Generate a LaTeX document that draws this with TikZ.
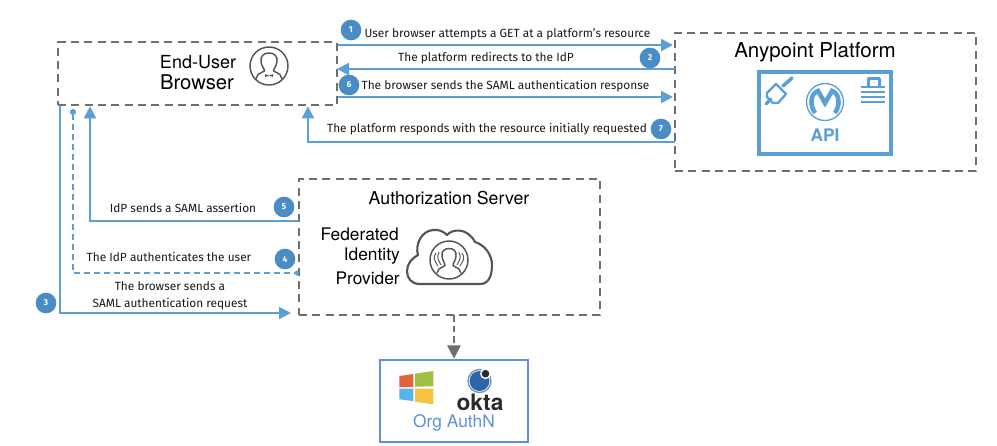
\documentclass[tikz,border=0pt]{standalone}
\usepackage{fontspec}
\setmainfont{TeX Gyre Heros}
\newfontfamily\labelfont{Fira Sans}
\usetikzlibrary{arrows.meta}
\definecolor{flowblue}{HTML}{5A9FD6}
\definecolor{badgeblue}{HTML}{4A8CC6}
\definecolor{boxgray}{HTML}{6F6F70}
\definecolor{icongray}{HTML}{555555}
\definecolor{orgblue}{HTML}{5F8FDE}
\definecolor{winred}{HTML}{E0643A}
\definecolor{wingreen}{HTML}{9FC044}
\definecolor{winblue}{HTML}{5AB4EC}
\definecolor{winyellow}{HTML}{F4C344}
\definecolor{oktablue}{HTML}{2F65A8}
\definecolor{oktadark}{HTML}{2B2B2B}
\tikzset{
  dashbox/.style={draw=boxgray,line width=1.5pt,dash pattern=on 6pt off 4pt,inner sep=0pt,outer sep=0pt},
  flow/.style={draw=flowblue,line width=1.5pt,-{Triangle[length=9pt,width=9pt]}},
  flowdash/.style={draw=flowblue,line width=1.5pt,dash pattern=on 4.5pt off 3pt,{Circle[length=4.5pt]}-{Circle[length=3.5pt]}},
  grayflow/.style={draw=boxgray,line width=1.5pt,dash pattern=on 5pt off 3pt,-{Triangle[length=10pt,width=10pt]}},
  badge/.style={circle,fill=badgeblue,minimum size=15.5pt,inner sep=0pt,text=white,font=\fontsize{6.5}{7}\labelfont\bfseries},
  lab/.style={inner sep=0pt,font=\fontsize{8.9}{10}\labelfont,text=black!90},
  title/.style={inner sep=0pt,align=center},
  icon/.style={draw=icongray,line width=1.1pt},
  apiicon/.style={draw=flowblue,line width=1.7pt,line join=round},
}
\begin{document}
\begin{tikzpicture}[x=0.75pt,y=-0.75pt]
\useasboundingbox (0,0) rectangle (997,446);
\fill[white] (0,0) rectangle (997,446);
% boxes
\node[dashbox,minimum width=209.25pt,minimum height=47.25pt] (eu) at (197.5,73.5) {};
\node[dashbox,minimum width=225.75pt,minimum height=103.5pt] (ap) at (825.5,102) {};
\node[dashbox,minimum width=225.75pt,minimum height=102pt] (au) at (449.5,247) {};
\node[draw=orgblue,line width=1.5pt,minimum width=111pt,minimum height=61.5pt,inner sep=0pt,outer sep=0pt] (org) at (454,401) {};
\node[draw=flowblue,line width=2.3pt,minimum width=99pt,minimum height=61.5pt,inner sep=0pt] (api) at (825,113) {};
% titles
\node[title,font=\fontsize{15.4}{15}\selectfont] (aptitle) at (815,52) {Anypoint Platform};
\node[title,font=\fontsize{13.5}{15}\selectfont] (eutitle1) at (198,62) {End-User};
\node[title,font=\fontsize{15.2}{15}\selectfont] (eutitle2) at (197,82.5) {Browser};
\node[title,font=\fontsize{13.3}{15}\selectfont] (autitle) at (449,198) {Authorization Server};
\node[title,anchor=east,font=\fontsize{13}{15}\selectfont] (fed1) at (399,234) {Federated};
\node[title,anchor=east,font=\fontsize{13}{15}\selectfont] (fed2) at (400,256) {Identity};
\node[title,anchor=east,font=\fontsize{13}{15}\selectfont] (fed3) at (400,278) {Provider};
\node[title,font=\fontsize{13}{15}\selectfont\bfseries,text=flowblue] (apilabel) at (825,135) {API};
\node[title,font=\fontsize{13}{15}\selectfont,text=orgblue] (orglabel) at (454,423) {Org AuthN};
\node[title,font=\fontsize{17}{17}\selectfont\bfseries,text=oktadark] (okta) at (480,402.5) {okta};
% heights and corners of the connectors
\coordinate (y1) at (0,45);
\coordinate (y2) at (0,69);
\coordinate (y6) at (0,97);
\coordinate (y7) at (0,142);
\coordinate (y5) at (0,221);
\coordinate (y4) at (0,273);
\coordinate (y3) at (0,313);
\coordinate (x3) at (60,0);
\coordinate (x4) at (73,0);
\coordinate (x5) at (90,0);
\coordinate (x7) at (308,0);
% connectors
\draw[flow,shorten <=1pt,shorten >=1.5pt] (eu.east |- y1) -- (ap.west |- y1);
\draw[flow,shorten >=0pt] (ap.west |- y2) -- (eu.east |- y2);
\draw[flow,shorten <=1pt,shorten >=1.5pt] (eu.east |- y6) -- (ap.west |- y6);
\draw[flow,shorten >=1pt] (ap.west |- y7) -- (x7 |- y7) -- (x7 |- eu.south);
\draw[flow,shorten >=1pt] (au.west |- y5) -- (x5 |- y5) -- (x5 |- eu.south);
\draw[flowdash,shorten <=3pt] (x4 |- eu.south) -- (x4 |- y4) -- (au.west |- y4);
\draw[flow,shorten >=6pt] (x3 |- eu.south) -- (x3 |- y3) -- (au.west |- y3);
\draw[grayflow,shorten >=1pt] (org.north |- au.south) -- (org.north);
% labels
\node[lab] (l1) at (507.5,34) {User browser attempts a GET at a platform’s resource};
\node[lab] (l2) at (486,58) {The platform redirects to the IdP};
\node[lab] (l6) at (505.5,86) {The browser sends the SAML authentication response};
\node[lab] (l7) at (487,129) {The platform responds with the resource initially requested};
\node[lab] (l5) at (183,208) {IdP sends a SAML assertion};
\node[lab] (l4) at (169,257) {The IdP authenticates the user};
\node[lab] (l3a) at (170,286) {The browser sends a};
\node[lab] (l3b) at (170,304) {SAML authentication request};
% badges
\node[badge] (b1) at (351,30) {1};
\node[badge] (b2) at (650,58) {2};
\node[badge] (b6) at (349,85) {6};
\node[badge] (b7) at (661,129) {7};
\node[badge] (b5) at (284,207) {5};
\node[badge] (b4) at (285,259) {4};
\node[badge] (b3) at (46,303) {3};
% user icon
\begin{scope}[shift={(269,66)}]
\draw[icon] (0,0) circle (19);
\draw[icon,line join=round] (-13.5,14) -- (-11,8.5) .. controls (-9,6.5) and (-6,6.5) .. (-4.5,5)
  .. controls (-4.5,3) and (-7.5,0) .. (-8,-4) .. controls (-9,-10) and (-5,-13) .. (0,-13)
  .. controls (5,-13) and (9,-10) .. (8,-4) .. controls (7.5,0) and (4.5,3) .. (4.5,5)
  .. controls (6,6.5) and (9,6.5) .. (11,8.5) -- (13.5,14);
\fill[icongray] (-4,8) -- (-1,9.3) -- (1,9.3) -- (4,8) -- (4,11) -- (1,10) -- (-1,10) -- (-4,11) -- cycle;
\end{scope}
% cloud icon
\draw[draw=icongray,line width=1.6pt,line join=round] (420,284)
  .. controls (411,284) and (407,278) .. (407,271)
  .. controls (407,264) and (412,258) .. (418,255)
  .. controls (415,245) and (421,231) .. (433,230)
  .. controls (439,229) and (444,232) .. (447,235)
  .. controls (452,229) and (467,227) .. (475,242)
  .. controls (485,245) and (492,255) .. (492,265)
  .. controls (492,277) and (488,284) .. (480,284) -- cycle;
\begin{scope}[shift={(449,260)}]
\draw[icon] (0,0) circle (19);
\draw[icon,line join=round] (-12,13) -- (-10,9) .. controls (-8,7.5) and (-6,7) .. (-4,5.5)
  .. controls (-4,3) and (-7,0) .. (-7,-4) .. controls (-8,-9) and (-4,-11.5) .. (0,-11.5)
  .. controls (4,-11.5) and (8,-9) .. (7,-4) .. controls (7,0) and (4,3) .. (4,5.5)
  .. controls (6,7) and (8,7.5) .. (10,9) -- (12,13);
\draw[draw=icongray,line width=0.7pt] (-13,-7) .. controls (-17,-1) and (-13,2) .. (-11,6);
\draw[draw=icongray,line width=0.7pt] (-10,-8) .. controls (-13,-2) and (-10,1) .. (-8,5);
\draw[draw=icongray,line width=0.7pt] (13,-7) .. controls (17,-1) and (13,2) .. (11,6);
\draw[draw=icongray,line width=0.7pt] (10,-8) .. controls (13,-2) and (10,1) .. (8,5);
\end{scope}
% API icons
\draw[draw=flowblue,line width=1pt] (825,102) circle (18.5);
\draw[draw=flowblue,line width=3.4pt] (815,113) .. controls (809,104) and (811,93) .. (818,91)
  -- (825,103) -- (832,91) .. controls (839,93) and (841,104) .. (835,113);
\draw[draw=flowblue,line width=2.6pt,line cap=round] (792,78) -- (783,86);
\draw[apiicon] (776,84) -- (786,94) -- (778,103) -- (773,103) -- (767,97) -- (767,93) -- cycle;
\draw[draw=flowblue,line width=2.6pt,line cap=round] (771,99) -- (766,104);
\draw[apiicon] (868.5,85.5) -- (868.5,78.5) -- (879.5,78.5) -- (879.5,85.5);
\foreach \yy in {87,92,97,102}
  \draw[draw=flowblue,line width=2pt] (861,\yy) -- (885,\yy);
% Windows logo
\fill[winred] (399.3,376) -- (413.3,374) -- (413.3,387) -- (399.3,387) -- cycle;
\fill[wingreen] (415,373.7) -- (433.3,371) -- (433.3,386.3) -- (415,386.7) -- cycle;
\fill[winblue] (399.3,388.7) -- (413.3,388.7) -- (413.3,401) -- (399.3,399.3) -- cycle;
\fill[winyellow] (415,388.7) -- (433.3,388.7) -- (433.3,404.3) -- (415,401.7) -- cycle;
% Okta mark
\fill[oktablue] (479.5,381) circle (10);
\draw[draw=oktablue!70,line width=1pt] (479.5,381) circle (11.5);
\fill[white] (485.5,373.7) circle (5.5);
\fill[oktadark] (485.5,373.7) circle (3.8);
\end{tikzpicture}
\end{document}
